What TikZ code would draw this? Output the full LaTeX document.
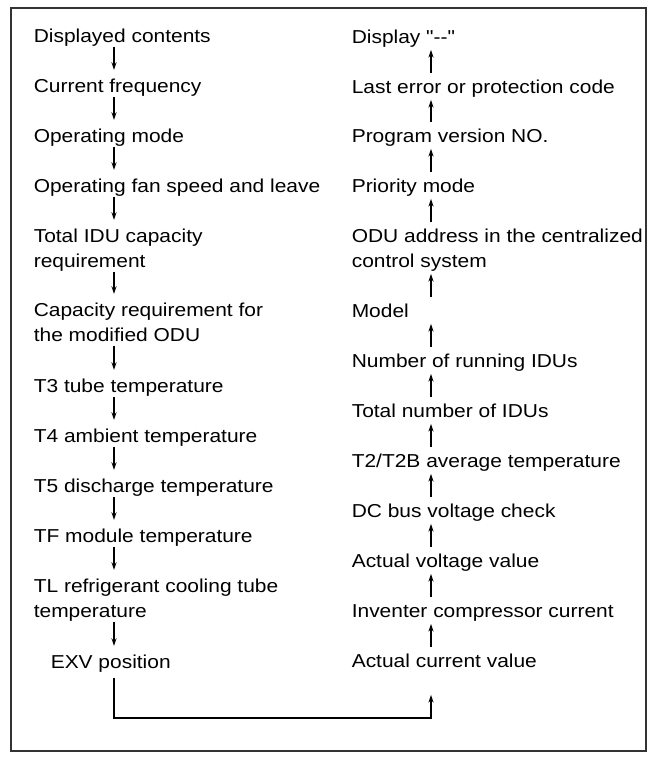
\documentclass[tikz,border=0pt]{standalone}
\usepackage{fontspec}
\setmainfont{Liberation Sans}[FakeStretch=1.12, Ligatures=TeXOff]
\usepackage{tikz}
\usetikzlibrary{arrows.meta}

\tikzset{
  item/.style={anchor=north west, inner sep=0pt, font=\fontsize{13.3pt}{17.7pt}\selectfont,
    text height=0.3325cm, text depth=0.0975cm},
  twoline/.style={anchor=north west, inner sep=0pt, font=\fontsize{13.3pt}{17.7pt}\selectfont,
    align=left},
  down/.style={-{Stealth[length=5.5pt,width=3.6pt]}, line width=0.9pt, shorten >=0.225cm},
  up/.style={-{Stealth[length=5.5pt,width=3.6pt]}, line width=0.9pt, shorten <=0.175cm, shorten >=0.05cm}
}

\begin{document}
\begin{tikzpicture}[x=0.025cm, y=-0.025cm]
            \useasboundingbox (0,0) rectangle (655,759);
            \draw[line width=1.6pt, draw=black!80] (11,8) rectangle (646,751);

            \coordinate (lx) at (114,0);
            \coordinate (rx) at (431,0);
            \coordinate (bend) at (0,718);

            % left column
            \node[item] (disp) at (33.5,29) {Displayed contents};
            \node[item] (freq) at (33.5,79) {Current frequency};
            \node[item] (mode) at (33.5,129) {Operating mode};
            \node[item] (fan) at (33.5,179) {Operating fan speed and leave};
            \node[twoline] (idu) at (33.5,229) {Total IDU capacity\\requirement};
            \node[twoline] (cap) at (33.5,303) {Capacity requirement for\\the modified ODU\vphantom{p}};
            \node[item] (tthree) at (33.5,379) {T3 tube temperature};
            \node[item] (tfour) at (33.5,429) {T4 ambient temperature};
            \node[item] (tfive) at (33.5,479) {T5 discharge temperature};
            \node[item] (tf) at (33.5,529) {TF module temperature};
            \node[twoline] (tl) at (33.5,579) {TL refrigerant cooling tube\\temperature};
            \node[item] (exv) at (50.5,655) {EXV position};

            % right column
            \node[item] (dash) at (351.5,30) {Display "--"};
            \node[item] (err) at (351.5,80) {Last error or protection code};
            \node[item] (prog) at (351.5,129) {Program version NO.};
            \node[item] (prio) at (351.5,179) {Priority mode};
            \node[twoline] (addr) at (351.5,229) {ODU address in the centralized\\control system};
            \node[item] (model) at (351.5,304) {Model};
            \node[item] (run) at (351.5,354) {Number of running IDUs};
            \node[item] (total) at (351.5,404) {Total number of IDUs};
            \node[item] (ttwo) at (351.5,454) {T2/T2B average temperature};
            \node[item] (bus) at (351.5,504) {DC bus voltage check};
            \node[item] (volt) at (351.5,554) {Actual voltage value};
            \node[item] (comp) at (351.5,604) {Inventer compressor current};
            \node[item] (curr) at (351.5,654) {Actual current value};

            \draw[down] (disp.south -| lx) -- (freq.north -| lx);
            \draw[down] (freq.south -| lx) -- (mode.north -| lx);
            \draw[down] (mode.south -| lx) -- (fan.north -| lx);
            \draw[down] (fan.south -| lx) -- (idu.north -| lx);
            \draw[down] (idu.south -| lx) -- (cap.north -| lx);
            \draw[down] (cap.south -| lx) -- (tthree.north -| lx);
            \draw[down] (tthree.south -| lx) -- (tfour.north -| lx);
            \draw[down] (tfour.south -| lx) -- (tfive.north -| lx);
            \draw[down] (tfive.south -| lx) -- (tf.north -| lx);
            \draw[down] (tf.south -| lx) -- (tl.north -| lx);
            \draw[down] (tl.south -| lx) -- (exv.north -| lx);

            % EXV back up to the right column
            \draw[up, shorten <=0.125cm, shorten >=0.575cm] (exv.south -| lx) |- (bend -| rx) -- (curr.south -| rx);

            \draw[up] (curr.north -| rx) -- (comp.south -| rx);
            \draw[up] (comp.north -| rx) -- (volt.south -| rx);
            \draw[up] (volt.north -| rx) -- (bus.south -| rx);
            \draw[up] (bus.north -| rx) -- (ttwo.south -| rx);
            \draw[up] (ttwo.north -| rx) -- (total.south -| rx);
            \draw[up] (total.north -| rx) -- (run.south -| rx);
            \draw[up] (run.north -| rx) -- (model.south -| rx);
            \draw[up] (model.north -| rx) -- (addr.south -| rx);
            \draw[up] (addr.north -| rx) -- (prio.south -| rx);
            \draw[up] (prio.north -| rx) -- (prog.south -| rx);
            \draw[up] (prog.north -| rx) -- (err.south -| rx);
            \draw[up] (err.north -| rx) -- (dash.south -| rx);
        \end{tikzpicture}
\end{document}
